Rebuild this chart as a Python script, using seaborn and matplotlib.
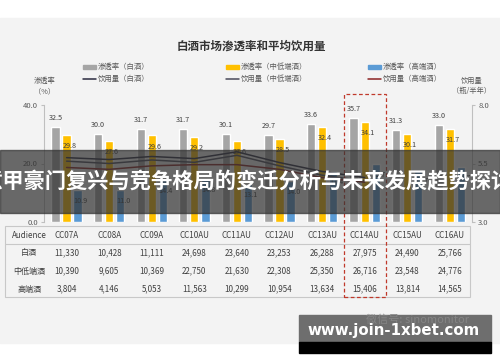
import numpy as np
import pandas as pd
import seaborn as sns
import matplotlib.pyplot as plt
from matplotlib.patches import Rectangle
from matplotlib.lines import Line2D
from matplotlib.transforms import blended_transform_factory

groups = ["CC07A", "CC08A", "CC09A", "CC10AU", "CC11AU",
          "CC12AU", "CC13AU", "CC14AU", "CC15AU", "CC16AU"]
series = ["渗透率（白酒）", "渗透率（中低端酒）", "渗透率（高端酒）"]
lines_names = ["饮用量（白酒）", "饮用量（中低端酒）", "饮用量（高端酒）"]

pen_all = [32.5, 30.0, 31.7, 31.7, 30.1, 29.7, 33.6, 35.7, 31.3, 33.0]
pen_mid = [29.8, 27.6, 29.6, 29.2, 27.6, 28.5, 32.4, 34.1, 30.1, 31.7]
pen_high = [10.9, 11.0, 14.4, 14.8, 13.1, 14.0, 17.4, 19.7, 17.7, 18.7]

vol_all = [5.75, 5.67, 5.80, 5.71, 6.00, 5.54, 5.16, 4.90, np.nan, np.nan]
vol_mid = [5.60, 5.50, 5.65, 5.55, 5.85, 5.40, 5.00, 4.75, np.nan, np.nan]
vol_high = [5.33, 5.25, 5.40, 5.45, 5.45, 5.25, 4.90, 4.70, np.nan, np.nan]

row_names = ["白酒", "中低端酒", "高端酒"]
aud_all = ["11,330", "10,428", "11,111", "24,698", "23,640",
           "23,253", "26,288", "27,975", "24,490", "25,766"]
aud_mid = ["10,390", "9,605", "10,369", "22,750", "21,630",
           "22,308", "25,350", "26,716", "23,548", "24,776"]
aud_high = ["3,804", "4,146", "5,053", "11,563", "10,299",
            "10,954", "13,634", "15,406", "13,814", "14,565"]

bar_colors = ["#a5a5a5", "#ffc000", "#5b9bd5"]
line_colors = ["#2b2b3f", "#4a4a5a", "#8b2323"]

sns.set_style("white")
plt.rcParams["font.family"] = ["Noto Sans CJK SC", "DejaVu Sans"]

W, H = 500, 362
def fx(x):
    return x / W
def fy(y):
    return 1 - y / H

fig = plt.figure(figsize=(5, 3.62), dpi=100, facecolor="white")
fig.patches.append(Rectangle((0, fy(343)), 1, fy(18) - fy(343), transform=fig.transFigure,
                             color="#f3f3f3", zorder=-5))

ax = fig.add_axes([fx(44), fy(222), fx(472) - fx(44), fy(105) - fy(222)])
ax.set_facecolor("none")

df = pd.DataFrame({
    "group": groups * 3,
    "series": [s for s in series for _ in groups],
    "value": pen_all + pen_mid + pen_high,
})
sns.barplot(data=df, x="group", y="value", hue="series", hue_order=series,
            palette=bar_colors, width=0.78, gap=0.25, saturation=1,
            legend=False, ax=ax)

for i, cont in enumerate(ax.containers):
    for bar in cont:
        h = bar.get_height()
        xc = bar.get_x() + bar.get_width() / 2
        if i == 0:
            ax.annotate(f"{h:.1f}", (xc, h), xytext=(0, 6.5), textcoords="offset points",
                        ha="center", va="center", fontsize=5.2, color="#404040")
        else:
            ax.annotate(f"{h:.1f}", (xc, h), xytext=(2, -8), textcoords="offset points",
                        ha="center", va="center", fontsize=5.2, color="#404040")

ax.set_xlim(-0.53, 9.52)
ax.set_ylim(0, 40)
ax.set_yticks([0, 20, 40])
ax.set_yticklabels(["0.0", "20.0", "40.0"])
ax.set_xticks([])
ax.set_xlabel("")
ax.set_ylabel("")
for s in ["top", "right", "bottom"]:
    ax.spines[s].set_visible(False)
ax.spines["left"].set_color("#bfbfbf")
ax.tick_params(axis="y", colors="#bfbfbf", labelcolor="#595959", labelsize=5.5,
               length=2.5, direction="out", pad=2, left=True)

ax2 = ax.twinx()
for vals, c in zip([vol_all, vol_mid, vol_high], line_colors):
    sns.lineplot(x=np.arange(len(groups)), y=vals, ax=ax2, color=c, lw=1.1)
ax2.set_ylim(3, 8)
ax2.set_yticks([3, 5.5, 8])
ax2.set_yticklabels(["3.0", "5.5", "8.0"])
ax2.set_xlim(-0.53, 9.52)
for s in ["top", "left", "bottom"]:
    ax2.spines[s].set_visible(False)
ax2.spines["right"].set_color("#bfbfbf")
ax2.tick_params(axis="y", colors="#bfbfbf", labelcolor="#595959", labelsize=5.5,
                length=2.5, direction="out", pad=2, right=True)

# title, axis titles
fig.text(fx(251), fy(46), "白酒市场渗透率和平均饮用量", ha="center", va="center",
         fontsize=8.3, weight="bold", color="#333333")
fig.text(fx(45), fy(86), "渗透率\n（%）", ha="center", va="center", fontsize=5.2,
         color="#595959", linespacing=1.3)
fig.text(fx(472), fy(86), "饮用量\n（瓶/半年）", ha="center", va="center", fontsize=5.2,
         color="#595959", linespacing=1.3)

# legend
leg_x = [83, 226, 368]
for k in range(3):
    fig.patches.append(Rectangle((fx(leg_x[k]), fy(69)), fx(13), fy(65) - fy(69),
                                 transform=fig.transFigure, color=bar_colors[k]))
    fig.text(fx(leg_x[k] + 15), fy(67), series[k], ha="left", va="center",
             fontsize=5.3, color="#595959")
    fig.add_artist(Line2D([fx(leg_x[k]), fx(leg_x[k] + 13)], [fy(79), fy(79)],
                          color=line_colors[k], lw=1.1, transform=fig.transFigure))
    fig.text(fx(leg_x[k] + 15), fy(79), lines_names[k], ha="left", va="center",
             fontsize=5.3, color="#595959")

# table below the chart
tr = blended_transform_factory(ax.transData, fig.transFigure)
row_y = [253, 271, 289]
fig.text(fx(29), fy(236), "Audience", ha="center", va="center", fontsize=5.8, color="#404040")
for i, g in enumerate(groups):
    ax.text(i, fy(236), g, transform=tr, ha="center", va="center", fontsize=5.8,
            color="#404040", clip_on=False)
for r, (name, vals) in enumerate(zip(row_names, [aud_all, aud_mid, aud_high])):
    fig.text(fx(29), fy(row_y[r]), name, ha="center", va="center", fontsize=5.8, color="#404040")
    for i, v in enumerate(vals):
        ax.text(i, fy(row_y[r]), v, transform=tr, ha="center", va="center", fontsize=5.8,
                color="#404040", clip_on=False)
fig.patches.append(Rectangle((fx(5), fy(297)), fx(470) - fx(5), fy(226) - fy(297),
                             transform=fig.transFigure, fill=False, ec="#c8c8c8", lw=0.8))
fig.add_artist(Line2D([fx(5), fx(470)], [fy(244), fy(244)], color="#c8c8c8", lw=0.8,
                      transform=fig.transFigure))

# highlight box around CC14AU
hi = groups.index("CC14AU")
fig.add_artist(Rectangle((hi - 0.49, fy(297)), 0.98, fy(94) - fy(297), transform=tr,
                         fill=False, ec="#c0392b", lw=0.9, ls=(0, (3, 2)), zorder=4))

# overlay banner
fig.add_artist(Rectangle((0, fy(213)), 1, fy(150) - fy(213), transform=fig.transFigure,
                         color="#333333", alpha=0.72, zorder=10))
fig.text(fx(247), fy(182), "意甲豪门复兴与竞争格局的变迁分析与未来发展趋势探讨",
         ha="center", va="center", fontsize=15.3, weight="bold", color="white", zorder=11)

# watermark box
fig.add_artist(Rectangle((fx(299), fy(342)), fx(491) - fx(299), fy(315) - fy(342),
                         transform=fig.transFigure, color="#6e6e6e", zorder=10))
fig.add_artist(Rectangle((fx(299), fy(353)), fx(491) - fx(299), fy(342) - fy(353),
                         transform=fig.transFigure, color="black", zorder=10))
fig.text(fx(417), fy(320), "微信号: sinomonitor", ha="center", va="center", fontsize=8,
         color="#858585", zorder=11)
fig.text(fx(394), fy(331), "www.join-1xbet.com", ha="center", va="center", fontsize=10.8,
         weight="bold", color="white", family="DejaVu Sans", zorder=12)

fig.savefig("out.png", dpi=100, facecolor="white")
